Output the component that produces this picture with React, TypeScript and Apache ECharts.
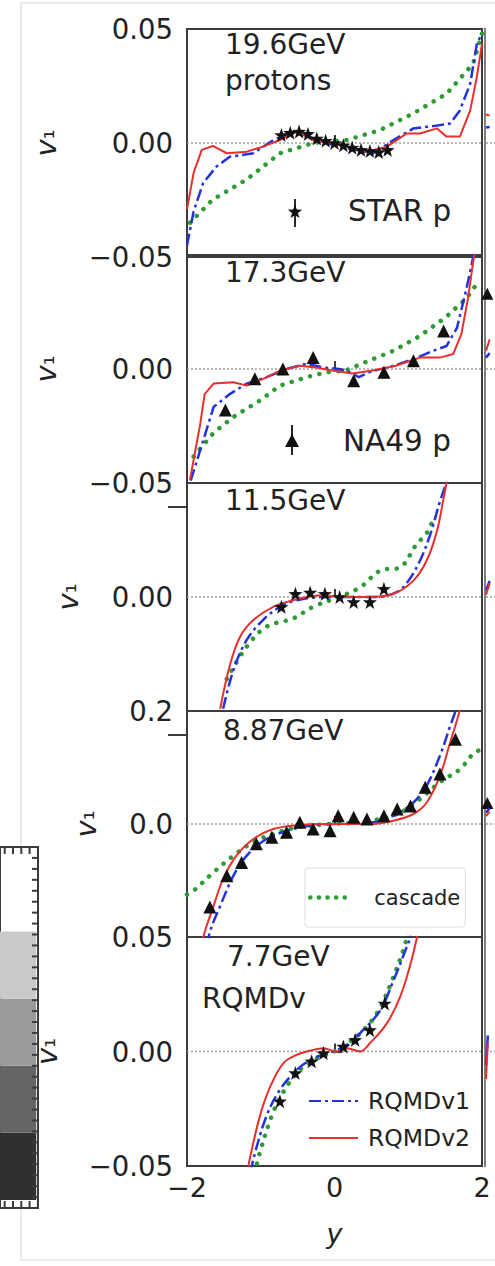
import React, { useEffect, useRef } from 'react';
import * as echarts from 'echarts';

const FONT = '"DejaVu Sans", sans-serif';
const RED = '#e6302c';
const BLUE = '#2232de';
const GREEN = '#2e9b34';
const INK = '#222';
const SPINE = '#3c3c3c';

// ---------- tick labels ----------
const xTicks = [-2, 0, 2];
const xTickLabels = ['−2', '0', '2'];

const yTicks19 = [-0.05, 0, 0.05];
const yTickLabels19 = ['−0.05', '0.00', '0.05'];
const yTicks17 = [-0.05, 0, 0.05];
const yTickLabels17 = ['−0.05', '0.00', ''];
const yTicks11 = [-0.05, 0, 0.05];
const yTickLabels11 = ['', '0.00', ''];
const yTicks887 = [-0.2, 0, 0.2];
const yTickLabels887 = ['', '0.0', '0.2'];
const yTicks77 = [-0.05, 0, 0.05];
const yTickLabels77 = ['−0.05', '0.00', '0.05'];

// ---------- panel titles ----------
const titles19 = ['19.6GeV', 'protons'];
const titles17 = ['17.3GeV'];
const titles11 = ['11.5GeV'];
const titles887 = ['8.87GeV'];
const titles77 = ['7.7GeV', 'RQMDv'];

// ---------- 19.6 GeV ----------
const red19 = [[-2.0, -0.029], [-1.91, -0.013], [-1.8, -0.003], [-1.65, -0.0013], [-1.46, -0.0045], [-1.19, -0.0038], [-0.97, -0.0016], [-0.74, 0.0013], [-0.51, 0.0049], [-0.29, 0.0013], [-0.06, 0.0], [0.17, -0.0016], [0.44, -0.0038], [0.71, -0.0016], [0.98, 0.0042], [1.16, 0.0042], [1.39, 0.0064], [1.52, 0.0028], [1.7, 0.0028], [1.84, 0.0143], [1.93, 0.029], [2.0, 0.0435]];
const blue19 = [[-2.0, -0.045], [-1.91, -0.03], [-1.78, -0.0175], [-1.6, -0.0103], [-1.42, -0.006], [-1.1, -0.0045], [-0.83, 0.0013], [-0.51, 0.0055], [-0.2, 0.0006], [0.17, -0.0023], [0.53, -0.0045], [0.8, 0.0013], [1.07, 0.0064], [1.34, 0.0074], [1.57, 0.0086], [1.7, 0.0143], [1.84, 0.026], [1.93, 0.0435], [2.0, 0.048]];
const green19 = [[-1.96, -0.035], [-1.65, -0.0248], [-1.19, -0.016], [-0.74, -0.0045], [-0.29, 0.0], [0.17, 0.0013], [0.62, 0.0057], [1.07, 0.013], [1.52, 0.0216], [1.88, 0.0348], [2.0, 0.048]];
const stars19 = [[-0.72, 0.0035], [-0.6, 0.0045], [-0.48, 0.005], [-0.36, 0.004], [-0.24, 0.002], [-0.12, 0.001], [0.0, 0.0], [0.12, -0.001], [0.24, -0.002], [0.36, -0.003], [0.48, -0.0035], [0.6, -0.004], [0.72, -0.003]];

// ---------- 17.3 GeV ----------
const red17 = [[-1.96, -0.0486], [-1.82, -0.024], [-1.76, -0.011], [-1.64, -0.0064], [-1.37, -0.0058], [-1.19, -0.0073], [-0.96, -0.0042], [-0.74, -0.0007], [-0.47, 0.0014], [-0.25, 0.0007], [-0.03, -0.0007], [0.24, -0.002], [0.52, -0.0007], [0.83, 0.0014], [1.16, 0.005], [1.43, 0.005], [1.61, 0.0066], [1.72, 0.0153], [1.81, 0.031], [1.88, 0.047], [1.92, 0.055]];
const blue17 = [[-1.95, -0.049], [-1.82, -0.0355], [-1.64, -0.0167], [-1.42, -0.011], [-1.19, -0.0064], [-0.92, -0.0036], [-0.65, 0.0], [-0.38, 0.0023], [-0.16, 0.0007], [0.06, 0.0], [0.2, -0.0014], [0.33, -0.0036], [0.47, -0.0014], [0.8, 0.0014], [1.07, 0.0043], [1.34, 0.008], [1.52, 0.0101], [1.66, 0.018], [1.77, 0.0326], [1.84, 0.0427], [1.88, 0.049], [1.9, 0.055]];
const green17 = [[-1.91, -0.0384], [-1.64, -0.028], [-1.37, -0.021], [-1.01, -0.0138], [-0.74, -0.0073], [-0.38, -0.0036], [-0.11, -0.0014], [0.15, -0.0007], [0.42, 0.003], [0.8, 0.008], [1.16, 0.0145], [1.52, 0.023], [1.79, 0.031], [1.9, 0.036]];
const tri17 = [[-1.48, -0.018], [-1.08, -0.0043], [-0.7, 0.0], [-0.29, 0.005], [0.26, -0.0051], [0.67, -0.0014], [1.07, 0.0036], [1.48, 0.0167]];

// ---------- 11.5 GeV ----------
const red11 = [[-1.55, -0.049], [-1.42, -0.03], [-1.28, -0.0174], [-1.1, -0.0101], [-0.83, -0.0043], [-0.56, -0.0014], [-0.2, 0.0007], [0.15, 0.0], [0.47, 0.0], [0.8, 0.0014], [1.07, 0.0072], [1.25, 0.016], [1.39, 0.029], [1.48, 0.0435], [1.53, 0.052]];
const blue11 = [[-1.51, -0.049], [-1.37, -0.032], [-1.19, -0.0188], [-0.97, -0.0101], [-0.74, -0.0043], [-0.51, -0.0014], [-0.2, 0.0], [0.2, 0.0], [0.55, 0.0], [0.85, 0.0022], [1.0, 0.007], [1.16, 0.016], [1.3, 0.0276], [1.43, 0.042], [1.5, 0.0486], [1.53, 0.053]];
const green11 = [[-1.46, -0.036], [-1.19, -0.0217], [-0.92, -0.013], [-0.56, -0.0094], [-0.29, -0.0043], [0.06, 0.0], [0.35, 0.0043], [0.62, 0.0116], [0.89, 0.013], [1.11, 0.023], [1.25, 0.028], [1.35, 0.035]];
const stars11 = [[-0.72, -0.0043], [-0.53, 0.0014], [-0.33, 0.002], [-0.13, 0.0014], [0.07, 0.0], [0.26, -0.0022], [0.48, -0.0022], [0.67, 0.0036]];

// ---------- 8.87 GeV ----------
const red887 = [[-1.8, -0.215], [-1.76, -0.191], [-1.64, -0.145], [-1.51, -0.097], [-1.33, -0.056], [-1.1, -0.0265], [-0.83, -0.0088], [-0.51, -0.002], [-0.06, 0.0], [0.47, 0.0], [0.8, 0.0059], [1.07, 0.0177], [1.25, 0.038], [1.43, 0.0855], [1.57, 0.145], [1.68, 0.192], [1.73, 0.22]];
const blue887 = [[-1.72, -0.215], [-1.69, -0.191], [-1.55, -0.145], [-1.37, -0.0915], [-1.19, -0.056], [-0.92, -0.0265], [-0.56, -0.0088], [-0.29, -0.002], [0.0, 0.0], [0.53, 0.003], [0.8, 0.0147], [1.07, 0.038], [1.25, 0.068], [1.43, 0.121], [1.57, 0.174], [1.64, 0.2], [1.67, 0.22]];
const green887 = [[-2.0, -0.125], [-1.91, -0.118], [-1.64, -0.0855], [-1.37, -0.056], [-1.1, -0.032], [-0.83, -0.0177], [-0.51, -0.006], [-0.06, 0.0], [0.35, 0.003], [0.85, 0.0177], [1.16, 0.0442], [1.43, 0.074], [1.7, 0.097], [1.88, 0.124], [2.0, 0.133]];
const tri887 = [[-1.69, -0.147], [-1.46, -0.0915], [-1.26, -0.068], [-1.06, -0.035], [-0.85, -0.0236], [-0.65, -0.0147], [-0.47, 0.003], [-0.29, -0.0088], [-0.06, -0.0118], [0.05, 0.0147], [0.26, 0.0118], [0.44, 0.0088], [0.67, 0.0147], [0.85, 0.0265], [1.03, 0.032], [1.23, 0.065], [1.43, 0.0885], [1.64, 0.15]];

// ---------- 7.7 GeV ----------
const red77 = [[-1.18, -0.053], [-1.15, -0.047], [-1.01, -0.028], [-0.87, -0.0152], [-0.69, -0.005], [-0.51, -0.0014], [-0.29, 0.0007], [-0.15, 0.0014], [0.02, 0.0], [0.17, 0.0014], [0.35, 0.0], [0.48, 0.0036], [0.71, 0.0123], [0.89, 0.0239], [1.02, 0.037], [1.11, 0.0486], [1.14, 0.053]];
const blue77 = [[-1.13, -0.053], [-1.1, -0.047], [-0.92, -0.028], [-0.74, -0.0167], [-0.51, -0.008], [-0.29, -0.003], [-0.02, 0.0], [0.17, 0.0029], [0.39, 0.0094], [0.62, 0.018], [0.8, 0.031], [0.98, 0.0457], [1.02, 0.049], [1.04, 0.053]];
const green77 = [[-1.08, -0.053], [-1.02, -0.045], [-0.85, -0.028], [-0.7, -0.018], [-0.5, -0.009], [-0.3, -0.004], [0.0, 0.0], [0.2, 0.004], [0.4, 0.0095], [0.6, 0.018], [0.78, 0.031], [0.95, 0.046], [1.0, 0.053]];
const stars77 = [[-0.74, -0.0217], [-0.53, -0.0094], [-0.31, -0.0043], [-0.15, -0.0007], [0.12, 0.0022], [0.28, 0.0051], [0.48, 0.0094], [0.68, 0.021]];

const zeroLine = [[-2, 0], [2, 0]];

// ---------- cropped neighbour column on the right (only its left edge is visible) ----------
const nbRed19 = [[-2.0, 0.0125], [-1.8, 0.012]];
const nbBlue19 = [[-2.0, 0.0068], [-1.8, 0.007]];
const nbRed17 = [[-2.0, 0.008], [-1.8, 0.013]];
const nbBlue17 = [[-2.0, 0.005], [-1.8, 0.007]];
const nbTri17 = [[-1.93, 0.033]];
const nbRed11 = [[-2.0, 0.001], [-1.8, 0.006]];
const nbBlue11 = [[-2.0, 0.003], [-1.8, 0.007]];
const nbTri11: number[][] = [];
const nbRed887 = [[-2.0, 0.014], [-1.8, 0.022]];
const nbBlue887 = [[-2.0, 0.02], [-1.8, 0.028]];
const nbTri887 = [[-1.93, 0.037]];
const nbRed77 = [[-2.0, -0.012], [-1.9, 0.004]];
const nbBlue77 = [[-2.0, -0.006], [-1.9, 0.007]];
const nbTri77: number[][] = [];
const nbTri19: number[][] = [];

// ---------- partial neighbour plot on the left (grey bands) ----------
const bandValues = [1, 1, 1, 1];
const bandColors = ['#303030', '#656565', '#9a9a9a', '#c9c9c9'];

// ---------- layout ----------
const panelTop = [29, 255, 483, 711, 937];
const panelHeight = [228, 228, 228, 226, 229];
const nameGaps = [127, 127, 105, 87, 126];
const titleY = [44, 272, 500, 730, 956];
const titleLineGap = [36, 0, 0, 0, 42];
const boxTop = 847;
const boxHeight = 361;
const boxRight = 38;

const STAR_PATH = 'path://M0,-10L2.35,-3.24L9.51,-3.09L3.8,1.24L5.88,8.09L0,4L-5.88,8.09L-3.8,1.24L-9.51,-3.09L-2.35,-3.24Z';

const panels = [
  { titles: titles19, red: red19, blue: blue19, green: green19, pts: stars19, sym: 'star', name: 'STAR p', yTicks: yTicks19, yLabels: yTickLabels19, smooth: false, nb: [nbRed19, nbBlue19, nbTri19] },
  { titles: titles17, red: red17, blue: blue17, green: green17, pts: tri17, sym: 'triangle', name: 'NA49 p', yTicks: yTicks17, yLabels: yTickLabels17, smooth: false, nb: [nbRed17, nbBlue17, nbTri17] },
  { titles: titles11, red: red11, blue: blue11, green: green11, pts: stars11, sym: 'star', name: 'STAR p 11.5', yTicks: yTicks11, yLabels: yTickLabels11, smooth: 0.35, nb: [nbRed11, nbBlue11, nbTri11] },
  { titles: titles887, red: red887, blue: blue887, green: green887, pts: tri887, sym: 'triangle', name: 'data 8.87', yTicks: yTicks887, yLabels: yTickLabels887, smooth: 0.35, nb: [nbRed887, nbBlue887, nbTri887] },
  { titles: titles77, red: red77, blue: blue77, green: green77, pts: stars77, sym: 'star', name: 'STAR p 7.7', yTicks: yTicks77, yLabels: yTickLabels77, smooth: 0.35, nb: [nbRed77, nbBlue77, nbTri77] },
];

function starPoints(cx: number, cy: number, R: number) {
  const pts: number[][] = [];
  for (let k = 0; k < 10; k++) {
    const r = k % 2 === 0 ? R : R * 0.42;
    const a = -Math.PI / 2 + (k * Math.PI) / 5;
    pts.push([cx + r * Math.cos(a), cy + r * Math.sin(a)]);
  }
  return pts;
}

export default function App() {
  const ref = useRef<HTMLDivElement>(null);
  useEffect(() => {
    const chart = echarts.init(ref.current!, null, { renderer: 'svg' });
    const grids: any[] = [];
    const xAxes: any[] = [];
    const yAxes: any[] = [];
    const series: any[] = [];

    panels.forEach((p, i) => {
      grids.push({
        left: 187, width: 295, top: panelTop[i], height: panelHeight[i],
        show: true, borderColor: SPINE, borderWidth: 2, backgroundColor: 'transparent',
      });
      xAxes.push({
        type: 'value', gridIndex: i, min: xTicks[0], max: xTicks[2], interval: xTicks[1] - xTicks[0],
        axisLine: { show: false },
        axisTick: { show: true, inside: true, length: 8, lineStyle: { color: SPINE, width: 2 } },
        splitLine: { show: false },
        axisLabel: {
          show: i === 4, margin: 8, fontSize: 27, fontFamily: FONT, color: INK,
          formatter: (v: number) => { const k = xTicks.findIndex((t) => Math.abs(t - v) < 1e-9); return k >= 0 ? xTickLabels[k] : ''; },
        },
        name: i === 4 ? 'y' : '', nameLocation: 'middle', nameGap: 54,
        nameTextStyle: { fontStyle: 'italic', fontSize: 27, fontFamily: FONT, color: INK },
      });
      yAxes.push({
        type: 'value', gridIndex: i, min: p.yTicks[0], max: p.yTicks[2], interval: p.yTicks[1] - p.yTicks[0],
        axisLine: { show: false },
        axisTick: { show: true, inside: true, length: 8, lineStyle: { color: SPINE, width: 2 } },
        splitLine: { show: false },
        axisLabel: {
          margin: 14, fontSize: 27.5, fontFamily: FONT, color: INK,
          formatter: (v: number) => { const k = p.yTicks.findIndex((t) => Math.abs(t - v) < 1e-9); return k >= 0 ? p.yLabels[k] : ''; },
        },
        name: '{v|v}{s|₁}', nameLocation: 'middle', nameRotate: 90, nameGap: nameGaps[i],
        nameTextStyle: {
          color: INK, fontFamily: FONT,
          rich: {
            v: { fontStyle: 'italic', fontSize: 29, fontFamily: FONT, color: INK },
            s: { fontSize: 25, fontFamily: FONT, color: INK },
          },
        },
      });
      series.push({
        type: 'line', xAxisIndex: i, yAxisIndex: i, data: zeroLine, symbol: 'none', silent: true,
        lineStyle: { color: '#a0a0a0', width: 1.3, type: [2, 2] }, z: 1,
      });
      series.push({
        type: 'line', name: 'cascade', xAxisIndex: i, yAxisIndex: i, data: p.green, symbol: 'none', smooth: p.smooth,
        lineStyle: { color: GREEN, width: 4.5, type: [0.1, 9.5], cap: 'round' }, itemStyle: { color: GREEN },
      });
      series.push({
        type: 'line', name: 'RQMDv1', xAxisIndex: i, yAxisIndex: i, data: p.blue, symbol: 'none', smooth: p.smooth,
        lineStyle: { color: BLUE, width: 2.5, type: [12, 4, 3, 4] }, itemStyle: { color: BLUE },
      });
      series.push({
        type: 'line', name: 'RQMDv2', xAxisIndex: i, yAxisIndex: i, data: p.red, symbol: 'none', smooth: p.smooth,
        lineStyle: { color: RED, width: 2 }, itemStyle: { color: RED },
      });
      series.push({
        type: 'scatter', name: p.name, xAxisIndex: i, yAxisIndex: i, data: p.pts,
        symbol: p.sym === 'star' ? STAR_PATH : 'triangle', symbolSize: p.sym === 'star' ? 14 : 13,
        itemStyle: { color: '#111', opacity: 1 }, z: 5,
      });
    });

    // left partial plot with grey bands (grid 5)
    grids.push({ left: boxRight - 108, width: 108, top: boxTop, height: boxHeight, show: true, borderColor: SPINE, borderWidth: 2, backgroundColor: '#fff' });
    xAxes.push({ type: 'value', gridIndex: 5, min: 0, max: 108, show: false });
    yAxes.push({ type: 'value', gridIndex: 5, min: -0.12, max: 5.26, show: false });

    const bandData: number[][] = [];
    let acc = 0;
    bandValues.forEach((v, k) => { bandData.push([acc, acc + v, k]); acc += v; });
    series.push({
      type: 'custom', xAxisIndex: 5, yAxisIndex: 5, silent: true, data: bandData, z: 1,
      encode: { y: [0, 1] },
      renderItem: (params: any, api: any) => {
        const lo = api.value(0);
        const hi = api.value(1);
        const k = api.value(2);
        const p0 = api.coord([0, lo]);
        const p1 = api.coord([103, hi]);
        return {
          type: 'rect',
          shape: { x: p0[0], y: p1[1], width: p1[0] - p0[0], height: p0[1] - p1[1] },
          style: { fill: bandColors[k] },
        };
      },
    });

    // cropped right-hand neighbour column (grids 6..10)
    panels.forEach((p, i) => {
      const g = 6 + i;
      grids.push({ left: 486, width: 295, top: panelTop[i], height: panelHeight[i], show: false });
      xAxes.push({ type: 'value', gridIndex: g, min: -2, max: 2, show: false });
      yAxes.push({ type: 'value', gridIndex: g, min: p.yTicks[0], max: p.yTicks[2], show: false });
      series.push({
        type: 'line', xAxisIndex: g, yAxisIndex: g, data: zeroLine, symbol: 'none', silent: true,
        lineStyle: { color: '#a0a0a0', width: 1.3, type: [2, 2] }, z: 1,
      });
      series.push({ type: 'line', xAxisIndex: g, yAxisIndex: g, data: p.nb[1], symbol: 'none', silent: true, lineStyle: { color: BLUE, width: 2.5 } });
      series.push({ type: 'line', xAxisIndex: g, yAxisIndex: g, data: p.nb[0], symbol: 'none', silent: true, lineStyle: { color: RED, width: 2 } });
      series.push({ type: 'scatter', xAxisIndex: g, yAxisIndex: g, data: p.nb[2], symbol: 'triangle', symbolSize: 12, silent: true, itemStyle: { color: '#111', opacity: 1 } });
    });

    const graphic: any[] = [
      { type: 'rect', z: -10, shape: { x: 21, y: 3, width: 490, height: 1257 }, style: { fill: 'none', stroke: '#e4e4e4', lineWidth: 1.5 } },
      { type: 'line', shape: { x1: 485, y1: 28, x2: 485, y2: 1167 }, style: { stroke: '#555', lineWidth: 1.5 } },
      { type: 'line', shape: { x1: 168, y1: 507, x2: 186, y2: 507 }, style: { stroke: SPINE, lineWidth: 2 } },
      { type: 'line', shape: { x1: 168, y1: 735, x2: 186, y2: 735 }, style: { stroke: SPINE, lineWidth: 2 } },
      // STAR p legend marker
      { type: 'line', shape: { x1: 295, y1: 199, x2: 295, y2: 227 }, style: { stroke: '#111', lineWidth: 1.8 } },
      { type: 'polygon', shape: { points: starPoints(295, 212, 7.5) }, style: { fill: '#111' } },
      { type: 'text', x: 348, y: 211, style: { text: 'STAR p', font: `29.5px ${FONT}`, fill: INK, verticalAlign: 'middle' } },
      // NA49 p legend marker
      { type: 'line', shape: { x1: 292, y1: 425, x2: 292, y2: 455 }, style: { stroke: '#111', lineWidth: 1.8 } },
      { type: 'polygon', shape: { points: [[292, 434], [299, 447], [285, 447]] }, style: { fill: '#111' } },
      { type: 'text', x: 343, y: 441, style: { text: 'NA49 p', font: `29.5px ${FONT}`, fill: INK, verticalAlign: 'middle' } },
    ];
    // tick ladder of the cropped left plot
    for (let k = 0; k <= 33; k++) {
      const y = boxTop + (boxHeight * k) / 33;
      graphic.push({ type: 'line', z: 10, shape: { x1: boxRight - 6, y1: y, x2: boxRight, y2: y }, style: { stroke: SPINE, lineWidth: 2 } });
    }
    for (let k = 0; k < 5; k++) {
      const x = 4.7 + 8.3 * k;
      graphic.push({ type: 'line', z: 10, shape: { x1: x, y1: boxTop, x2: x, y2: boxTop + 7 }, style: { stroke: SPINE, lineWidth: 2 } });
      graphic.push({ type: 'line', z: 10, shape: { x1: x, y1: boxTop + boxHeight - 7, x2: x, y2: boxTop + boxHeight }, style: { stroke: SPINE, lineWidth: 2 } });
    }
    panels.forEach((p, i) => {
      p.titles.forEach((t, j) => {
        const x = i === 4 && j === 1 ? 202 : i === 3 ? 223 : i === 4 ? 227 : 225;
        graphic.push({ type: 'text', x, y: titleY[i] + j * titleLineGap[i], style: { text: t, font: `28px ${FONT}`, fill: INK, verticalAlign: 'middle' } });
      });
    });

    chart.setOption({
      animation: false,
      backgroundColor: '#fff',
      grid: grids,
      xAxis: xAxes,
      yAxis: yAxes,
      series,
      legend: [
        {
          data: ['cascade'], left: 305, top: 868, padding: [19, 5, 19, 3], itemWidth: 39, itemHeight: 12,
          borderColor: '#dcdcdc', borderWidth: 1, borderRadius: 3, selectedMode: false,
          itemStyle: { opacity: 0 },
          lineStyle: { width: 4.5, type: [0.1, 8.5], cap: 'round', color: GREEN },
          textStyle: { fontSize: 21, fontFamily: FONT, color: INK, padding: [0, 0, 0, 20] },
        },
        {
          data: ['RQMDv1', 'RQMDv2'], orient: 'vertical', left: 303, top: 1084, itemGap: 13, itemWidth: 49, itemHeight: 12,
          selectedMode: false, itemStyle: { opacity: 0 },
          textStyle: { fontSize: 23.5, fontFamily: FONT, color: INK, padding: [0, 0, 0, 5] },
        },
      ],
      graphic,
    });
    return () => chart.dispose();
  }, []);
  return <div ref={ref} style={{ position: 'absolute', left: 0, top: 0, width: 495, height: 1266, background: '#fff' }} />;
}
